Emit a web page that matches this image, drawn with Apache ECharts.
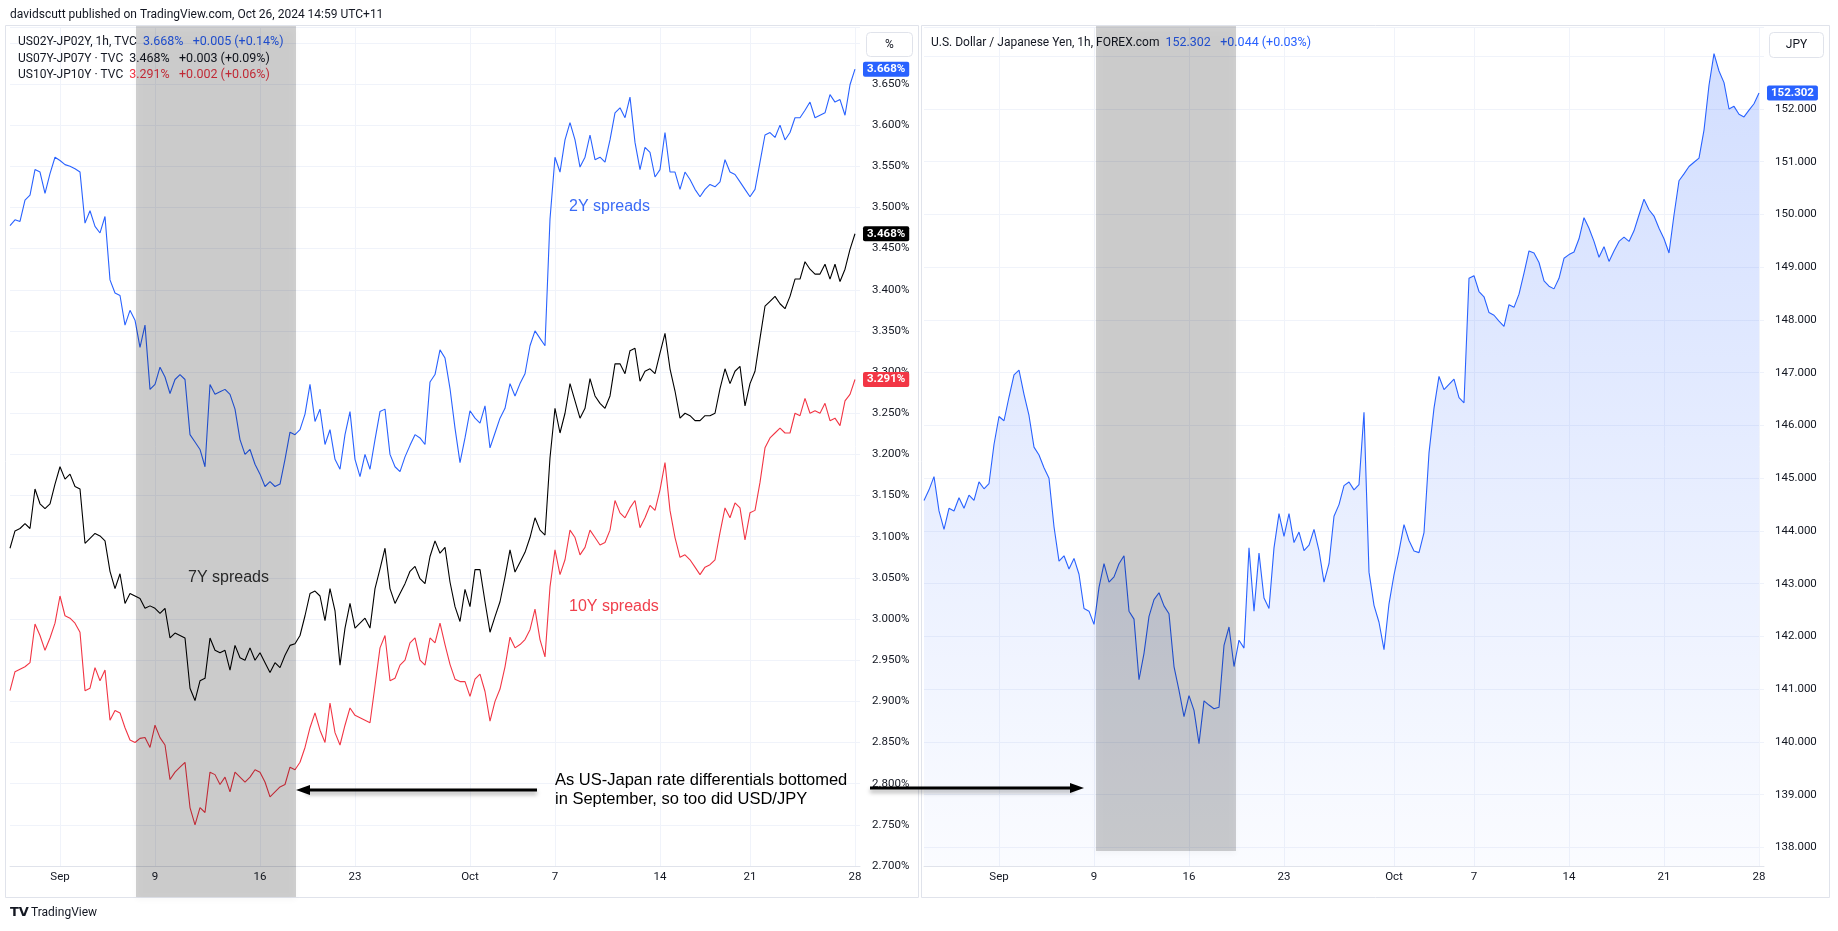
<!DOCTYPE html>
<html>
<head>
<meta charset="utf-8">
<script src="https://cdn.jsdelivr.net/npm/echarts@6/dist/echarts.min.js"></script>
<style>
  html, body { margin: 0; padding: 0; background: #fff; }
  #chart { width: 1838px; height: 931px; }
</style>
</head>
<body>
<div id="chart"></div>
<script>
// date labels under both panes, and the bar slot where each one sits
const dateLabels = ['Sep', '9', '16', '23', 'Oct', '7', '14', '21', '28'];
const leftTickIdx = [10, 29, 50, 69, 92, 109, 130, 148, 169];
const rightTickIdx = [15, 34, 53, 72, 94, 110, 129, 148, 167];

// US-JP yield spreads, % (sampled every ~6 hourly bars)
const spread2y = [
  3.478, 3.485, 3.483, 3.509, 3.515, 3.546, 3.543, 3.517, 3.541, 3.561,
  3.557, 3.552, 3.550, 3.547, 3.543, 3.481, 3.496, 3.477, 3.469, 3.489,
  3.412, 3.396, 3.393, 3.357, 3.375, 3.363, 3.330, 3.357, 3.279, 3.285,
  3.306, 3.294, 3.274, 3.291, 3.297, 3.291, 3.224, 3.215, 3.206, 3.185,
  3.285, 3.273, 3.276, 3.279, 3.273, 3.255, 3.218, 3.200, 3.206, 3.188,
  3.176, 3.161, 3.167, 3.161, 3.164, 3.194, 3.227, 3.224, 3.230, 3.249,
  3.285, 3.240, 3.255, 3.212, 3.230, 3.194, 3.182, 3.224, 3.252, 3.194,
  3.173, 3.200, 3.182, 3.218, 3.252, 3.255, 3.200, 3.185, 3.179, 3.197,
  3.211, 3.224, 3.220, 3.212, 3.288, 3.297, 3.327, 3.317, 3.280, 3.232,
  3.190, 3.220, 3.253, 3.244, 3.238, 3.259, 3.208, 3.226, 3.244, 3.256,
  3.286, 3.271, 3.286, 3.298, 3.332, 3.350, 3.341, 3.332, 3.486, 3.561,
  3.543, 3.582, 3.603, 3.582, 3.549, 3.561, 3.588, 3.558, 3.561, 3.555,
  3.582, 3.615, 3.621, 3.609, 3.634, 3.579, 3.546, 3.573, 3.567, 3.537,
  3.546, 3.591, 3.543, 3.543, 3.522, 3.543, 3.534, 3.522, 3.513, 3.522,
  3.528, 3.525, 3.531, 3.558, 3.543, 3.540, 3.531, 3.522, 3.513, 3.522,
  3.555, 3.588, 3.591, 3.585, 3.600, 3.582, 3.591, 3.609, 3.609, 3.618,
  3.628, 3.609, 3.612, 3.615, 3.637, 3.628, 3.631, 3.612, 3.649, 3.668
];
const spread7y = [
  3.086, 3.107, 3.110, 3.116, 3.110, 3.158, 3.140, 3.134, 3.140, 3.164,
  3.185, 3.170, 3.176, 3.161, 3.158, 3.092, 3.098, 3.104, 3.101, 3.095,
  3.058, 3.037, 3.055, 3.019, 3.031, 3.028, 3.025, 3.013, 3.016, 3.013,
  3.007, 3.013, 2.977, 2.983, 2.980, 2.977, 2.916, 2.901, 2.925, 2.928,
  2.977, 2.962, 2.959, 2.962, 2.938, 2.968, 2.953, 2.950, 2.965, 2.950,
  2.959, 2.947, 2.935, 2.947, 2.941, 2.956, 2.968, 2.970, 2.980, 3.004,
  3.031, 3.034, 3.028, 2.998, 3.037, 3.010, 2.944, 2.989, 3.019, 2.989,
  2.995, 3.001, 2.989, 3.037, 3.061, 3.086, 3.037, 3.019, 3.031, 3.043,
  3.058, 3.064, 3.049, 3.043, 3.076, 3.095, 3.080, 3.087, 3.045, 3.015,
  2.997, 3.036, 3.015, 3.060, 3.060, 3.021, 2.984, 3.003, 3.021, 3.051,
  3.084, 3.057, 3.069, 3.081, 3.099, 3.123, 3.108, 3.102, 3.196, 3.256,
  3.226, 3.250, 3.286, 3.265, 3.244, 3.256, 3.292, 3.271, 3.262, 3.256,
  3.271, 3.310, 3.310, 3.298, 3.326, 3.329, 3.289, 3.301, 3.304, 3.298,
  3.323, 3.347, 3.304, 3.277, 3.244, 3.250, 3.247, 3.241, 3.241, 3.247,
  3.247, 3.250, 3.280, 3.304, 3.286, 3.301, 3.307, 3.259, 3.286, 3.301,
  3.341, 3.380, 3.386, 3.392, 3.383, 3.377, 3.392, 3.413, 3.413, 3.434,
  3.425, 3.419, 3.419, 3.431, 3.413, 3.431, 3.410, 3.425, 3.449, 3.468
];
const spread10y = [
  2.913, 2.936, 2.939, 2.942, 2.947, 2.994, 2.980, 2.962, 2.977, 2.995,
  3.028, 3.004, 3.001, 2.995, 2.984, 2.913, 2.916, 2.941, 2.925, 2.938,
  2.877, 2.889, 2.886, 2.868, 2.853, 2.850, 2.855, 2.856, 2.844, 2.871,
  2.856, 2.847, 2.805, 2.814, 2.820, 2.826, 2.771, 2.750, 2.771, 2.765,
  2.814, 2.811, 2.799, 2.808, 2.790, 2.814, 2.808, 2.802, 2.808, 2.817,
  2.814, 2.802, 2.784, 2.790, 2.796, 2.799, 2.820, 2.817, 2.826, 2.844,
  2.868, 2.886, 2.865, 2.850, 2.898, 2.862, 2.847, 2.871, 2.892, 2.883,
  2.880, 2.877, 2.874, 2.919, 2.965, 2.980, 2.925, 2.928, 2.944, 2.950,
  2.971, 2.977, 2.950, 2.944, 2.977, 2.971, 2.995, 2.969, 2.945, 2.927,
  2.924, 2.924, 2.906, 2.927, 2.933, 2.912, 2.876, 2.900, 2.915, 2.942,
  2.978, 2.965, 2.969, 2.975, 2.987, 3.012, 2.975, 2.954, 3.039, 3.084,
  3.054, 3.072, 3.108, 3.099, 3.078, 3.087, 3.108, 3.099, 3.090, 3.093,
  3.108, 3.144, 3.129, 3.123, 3.135, 3.144, 3.111, 3.123, 3.138, 3.132,
  3.157, 3.190, 3.132, 3.099, 3.075, 3.078, 3.072, 3.063, 3.054, 3.063,
  3.066, 3.072, 3.105, 3.135, 3.123, 3.141, 3.135, 3.096, 3.129, 3.132,
  3.166, 3.208, 3.220, 3.226, 3.232, 3.226, 3.226, 3.250, 3.247, 3.268,
  3.250, 3.253, 3.250, 3.262, 3.241, 3.244, 3.235, 3.265, 3.273, 3.291
];

// USD/JPY, FOREX.com (sampled every ~6 hourly bars)
const usdjpy = [
  144.58, 144.78, 145.03, 144.38, 144.03, 144.43, 144.38, 144.63, 144.43, 144.68,
  144.58, 144.93, 144.80, 144.90, 145.64, 146.17, 146.09, 146.54, 146.96, 147.05,
  146.59, 146.19, 145.59, 145.44, 145.20, 145.00, 144.08, 143.43, 143.53, 143.28,
  143.48, 143.18, 142.53, 142.48, 142.23, 142.93, 143.38, 143.03, 143.13, 143.38,
  143.53, 142.48, 142.33, 141.18, 141.68, 142.38, 142.70, 142.83, 142.58, 142.43,
  141.43, 140.98, 140.48, 140.88, 140.60, 139.97, 140.78, 140.70, 140.63, 140.66,
  141.83, 142.18, 141.43, 141.93, 141.78, 143.68, 142.48, 143.58, 142.73, 142.53,
  143.68, 144.33, 143.90, 144.33, 143.78, 143.98, 143.63, 143.73, 144.03, 143.63,
  143.03, 143.38, 144.28, 144.50, 144.86, 144.93, 144.78, 144.88, 146.25, 143.22,
  142.59, 142.27, 141.75, 142.62, 143.17, 143.62, 144.12, 143.82, 143.62, 143.59,
  143.97, 145.48, 146.33, 146.93, 146.68, 146.78, 146.88, 146.53, 146.43, 148.79,
  148.84, 148.54, 148.44, 148.14, 148.09, 147.98, 147.88, 148.29, 148.24, 148.49,
  148.89, 149.31, 149.27, 149.09, 148.74, 148.64, 148.59, 148.79, 149.17, 149.24,
  149.29, 149.54, 149.94, 149.74, 149.49, 149.19, 149.39, 149.11, 149.31, 149.49,
  149.57, 149.49, 149.69, 149.99, 150.29, 150.09, 149.97, 149.74, 149.54, 149.27,
  149.99, 150.64, 150.77, 150.91, 150.99, 151.07, 151.60, 152.45, 153.05, 152.72,
  152.50, 152.00, 152.05, 151.90, 151.85, 151.98, 152.10, 152.302
];

const FONT = 'Roboto, "Noto Sans", sans-serif';
const TEXT = '#131722';
const GRID = '#f0f3fa';
const BORDER = '#e0e3eb';
const BLUE = '#2962ff';
const RED = '#f23645';
const BLACK = '#000000';

function buildCats(n, idx) {
  const c = new Array(n).fill('');
  idx.forEach((k, j) => { c[k] = dateLabels[j]; });
  return c;
}
const leftCats = buildCats(spread2y.length + 1, leftTickIdx);
const rightCats = buildCats(usdjpy.length + 1, rightTickIdx);

const onTick = (i, v) => v !== '';

function timeAxis(gridIndex, cats) {
  return {
    gridIndex: gridIndex,
    type: 'category',
    boundaryGap: false,
    data: cats,
    axisTick: { show: false },
    axisLine: { lineStyle: { color: BORDER } },
    axisLabel: { interval: onTick, color: TEXT, fontSize: 11.5, fontFamily: FONT, margin: 5 },
    splitLine: { show: true, interval: onTick, lineStyle: { color: GRID } }
  };
}

function badge(bg, fmt) {
  return {
    show: true,
    formatter: fmt,
    color: '#fff',
    backgroundColor: bg,
    borderRadius: 2,
    padding: [2, 4, 1, 4],
    fontSize: 11.5,
    fontWeight: 'bold',
    fontFamily: FONT,
    distance: 8
  };
}

function legendRow(x, y, name, values, color) {
  return {
    type: 'text', x: x, y: y, z: 30,
    style: {
      text: '{n|' + name + '}  {b|' + values + '}',
      font: '12px ' + FONT, verticalAlign: 'middle',
      rich: { n: { fill: TEXT, font: '12px ' + FONT }, b: { fill: color, font: '12.5px ' + FONT } }
    }
  };
}

const pct = p => p.value.toFixed(3) + '%';
const ANNO = '"Liberation Sans", Arial, sans-serif';

const chart = echarts.init(document.getElementById('chart'));
chart.setOption({
  animation: false,
  backgroundColor: '#ffffff',
  grid: [
    { left: 10, top: 27, width: 850, height: 839 },
    { left: 924, top: 27, width: 840, height: 839 }
  ],
  xAxis: [timeAxis(0, leftCats), timeAxis(1, rightCats)],
  yAxis: [
    {
      gridIndex: 0,
      type: 'value',
      position: 'right',
      min: 2.70,
      max: 3.7192,
      interval: 0.05,
      axisLine: { show: false },
      axisTick: { show: false },
      axisLabel: {
        color: TEXT, fontSize: 11.5, fontFamily: FONT, margin: 12,
        formatter: v => (v > 3.68 ? '' : v.toFixed(3) + '%')
      },
      splitLine: { lineStyle: { color: GRID } }
    },
    {
      gridIndex: 1,
      type: 'value',
      position: 'right',
      min: 137.649,
      max: 153.5545,
      splitNumber: 15,
      axisLine: { show: false },
      axisTick: { show: false },
      axisLabel: {
        color: TEXT, fontSize: 11.5, fontFamily: FONT, margin: 11,
        showMinLabel: false, showMaxLabel: false,
        formatter: v => (Math.abs(v - Math.round(v)) > 1e-6 || v > 152.5 ? '' : v.toFixed(3))
      },
      splitLine: { lineStyle: { color: GRID } }
    }
  ],
  series: [
    {
      name: 'US02Y-JP02Y', type: 'line', xAxisIndex: 0, yAxisIndex: 0,
      data: spread2y, showSymbol: false, color: BLUE,
      lineStyle: { width: 1.1 },
      endLabel: badge(BLUE, pct)
    },
    {
      name: 'US07Y-JP07Y', type: 'line', xAxisIndex: 0, yAxisIndex: 0,
      data: spread7y, showSymbol: false, color: BLACK,
      lineStyle: { width: 1.1 },
      endLabel: badge(BLACK, pct)
    },
    {
      name: 'US10Y-JP10Y', type: 'line', xAxisIndex: 0, yAxisIndex: 0,
      data: spread10y, showSymbol: false, color: RED,
      lineStyle: { width: 1.1 },
      endLabel: badge(RED, pct)
    },
    {
      name: 'USDJPY', type: 'line', xAxisIndex: 1, yAxisIndex: 1,
      data: usdjpy, showSymbol: false, color: BLUE,
      lineStyle: { width: 1.1 },
      areaStyle: {
        color: new echarts.graphic.LinearGradient(0, 0, 0, 1, [
          { offset: 0, color: 'rgba(41,98,255,0.30)' },
          { offset: 1, color: 'rgba(41,98,255,0.03)' }
        ])
      },
      endLabel: badge(BLUE, p => p.value.toFixed(3))
    }
  ],
  graphic: [
    // header
    { type: 'text', x: 10, y: 15, style: { text: 'davidscutt published on TradingView.com, Oct 26, 2024 14:59 UTC+11', fill: TEXT, font: '12px ' + FONT, verticalAlign: 'middle' } },
    // pane frames
    { type: 'rect', shape: { x: 5.5, y: 25.5, width: 913, height: 872 }, style: { fill: 'none', stroke: BORDER, lineWidth: 1 }, z: 1 },
    { type: 'rect', shape: { x: 921.5, y: 25.5, width: 908, height: 872 }, style: { fill: 'none', stroke: BORDER, lineWidth: 1 }, z: 1 },
    // unit boxes
    { type: 'rect', shape: { x: 866.5, y: 32.5, width: 46, height: 24, r: 4 }, style: { fill: '#fff', stroke: BORDER, lineWidth: 1 }, z: 20 },
    { type: 'text', x: 889.5, y: 44.5, style: { text: '%', fill: TEXT, font: '12px ' + FONT, align: 'center', verticalAlign: 'middle' }, z: 21 },
    { type: 'rect', shape: { x: 1769.5, y: 32.5, width: 54, height: 25, r: 4 }, style: { fill: '#fff', stroke: BORDER, lineWidth: 1 }, z: 20 },
    { type: 'text', x: 1796.5, y: 45, style: { text: 'JPY', fill: TEXT, font: '12px ' + FONT, align: 'center', verticalAlign: 'middle' }, z: 21 },
    // legends
    legendRow(18, 42, 'US02Y-JP02Y, 1h, TVC', '3.668%   +0.005 (+0.14%)', BLUE),
    legendRow(18, 59, 'US07Y-JP07Y · TVC', '3.468%   +0.003 (+0.09%)', TEXT),
    legendRow(18, 75, 'US10Y-JP10Y · TVC', '3.291%   +0.002 (+0.06%)', RED),
    legendRow(931, 43, 'U.S. Dollar / Japanese Yen, 1h, FOREX.com', '152.302   +0.044 (+0.03%)', BLUE),
    // annotations
    { type: 'text', x: 569, y: 207, z: 40, style: { text: '2Y spreads', fill: '#3b6cf6', font: '16px ' + ANNO, verticalAlign: 'middle' } },
    { type: 'text', x: 188, y: 578, z: 40, style: { text: '7Y spreads', fill: '#333333', font: '16px ' + ANNO, verticalAlign: 'middle' } },
    { type: 'text', x: 569, y: 607, z: 40, style: { text: '10Y spreads', fill: '#f0404d', font: '16px ' + ANNO, verticalAlign: 'middle' } },
    { type: 'text', x: 555, y: 780, z: 40, style: { text: 'As US-Japan rate differentials bottomed', fill: '#000', font: '16.5px ' + ANNO, verticalAlign: 'middle' } },
    { type: 'text', x: 555, y: 799, z: 40, style: { text: 'in September, so too did USD/JPY', fill: '#000', font: '16.5px ' + ANNO, verticalAlign: 'middle' } },
    // arrows
    { type: 'line', z: 40, shape: { x1: 537, y1: 790, x2: 306, y2: 790 }, style: { stroke: '#000', lineWidth: 3, shadowBlur: 4, shadowOffsetY: 3, shadowColor: 'rgba(0,0,0,0.35)' } },
    { type: 'polygon', z: 40, shape: { points: [[296, 790], [310, 785], [310, 795]] }, style: { fill: '#000' } },
    { type: 'line', z: 40, shape: { x1: 870, y1: 788, x2: 1074, y2: 788 }, style: { stroke: '#000', lineWidth: 3, shadowBlur: 4, shadowOffsetY: 3, shadowColor: 'rgba(0,0,0,0.35)' } },
    { type: 'polygon', z: 40, shape: { points: [[1084, 788], [1070, 783], [1070, 793]] }, style: { fill: '#000' } },
    // shaded windows
    { type: 'rect', z: 50, shape: { x: 136, y: 26, width: 160, height: 871 }, style: { fill: 'rgba(0,0,0,0.175)', shadowBlur: 6, shadowOffsetY: 3, shadowColor: 'rgba(0,0,0,0.18)' } },
    { type: 'rect', z: 50, shape: { x: 1096, y: 26, width: 140, height: 825 }, style: { fill: 'rgba(0,0,0,0.175)', shadowBlur: 6, shadowOffsetY: 3, shadowColor: 'rgba(0,0,0,0.18)' } },
    // footer
    { type: 'text', x: 10, y: 913, style: { text: 'TV', fill: '#131722', font: 'bold 13px "DejaVu Sans", sans-serif', verticalAlign: 'middle' } },
    { type: 'text', x: 31, y: 913, style: { text: 'TradingView', fill: '#131722', font: '12px ' + FONT, verticalAlign: 'middle' } }
  ]
});
</script>
</body>
</html>
